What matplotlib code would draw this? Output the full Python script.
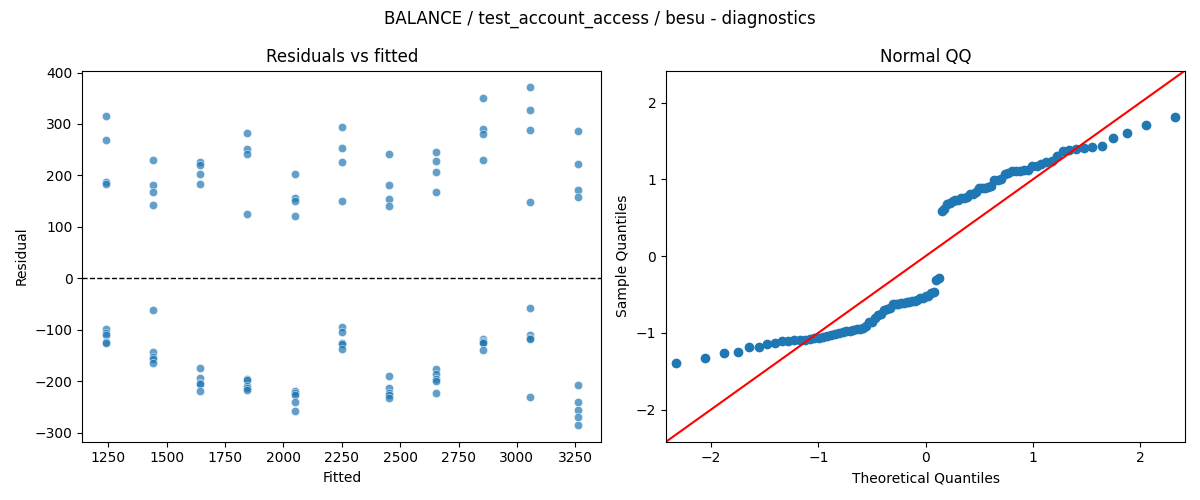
import numpy as np
import matplotlib
matplotlib.use("Agg")
import matplotlib.pyplot as plt
import seaborn as sns
from statistics import NormalDist

# fitted value of each group and the residuals
fitted_levels = [1240, 1442, 1644, 1846, 2048, 2250, 2452, 2654, 2856, 3058, 3260]
residuals_by_group = [
    [315, 268, 187, 184, -98, -107, -111, -124, -126],
    [229, 182, 167, 142, -62, -143, -153, -156, -164],
    [226, 220, 202, 183, -174, -194, -203, -205, -219],
    [283, 251, 241, 125, -195, -198, -210, -213, -217],
    [202, 156, 151, 121, -220, -224, -227, -241, -258],
    [295, 254, 227, 150, -95, -105, -125, -127, -137],
    [241, 182, 154, 140, -190, -214, -223, -227, -233],
    [245, 228, 206, 167, -176, -186, -196, -199, -223],
    [351, 291, 280, 229, -119, -121, -123, -126, -140],
    [371, 328, 289, 148, -58, -110, -117, -119, -231],
    [287, 223, 171, 159, -208, -241, -256, -270, -285],
]
title = "BALANCE / test_account_access / besu - diagnostics"

fitted = np.repeat(fitted_levels, [len(g) for g in residuals_by_group])
resid = np.concatenate([np.array(g, dtype=float) for g in residuals_by_group])

fig, (ax1, ax2) = plt.subplots(1, 2, figsize=(12, 5), dpi=100)

# residuals vs fitted
sns.scatterplot(x=fitted, y=resid, ax=ax1, alpha=0.7)
ax1.axhline(0, color="black", linestyle="--", linewidth=1)
ax1.set_title("Residuals vs fitted")
ax1.set_xlabel("Fitted")
ax1.set_ylabel("Residual")

# normal QQ of standardized residuals
n = len(resid)
z = np.sort((resid - resid.mean()) / resid.std())
pos = np.arange(1, n + 1) / (n + 1)
theo = np.array([NormalDist().inv_cdf(p) for p in pos])
ax2.plot(theo, z, "o", color="C0", linestyle="none")
lim = (-2.42, 2.42)
ax2.plot(lim, lim, color="red")
ax2.set_xlim(lim)
ax2.set_ylim(lim)
ax2.set_title("Normal QQ")
ax2.set_xlabel("Theoretical Quantiles")
ax2.set_ylabel("Sample Quantiles")

fig.suptitle(title)
fig.tight_layout()
fig.savefig("out.png")
